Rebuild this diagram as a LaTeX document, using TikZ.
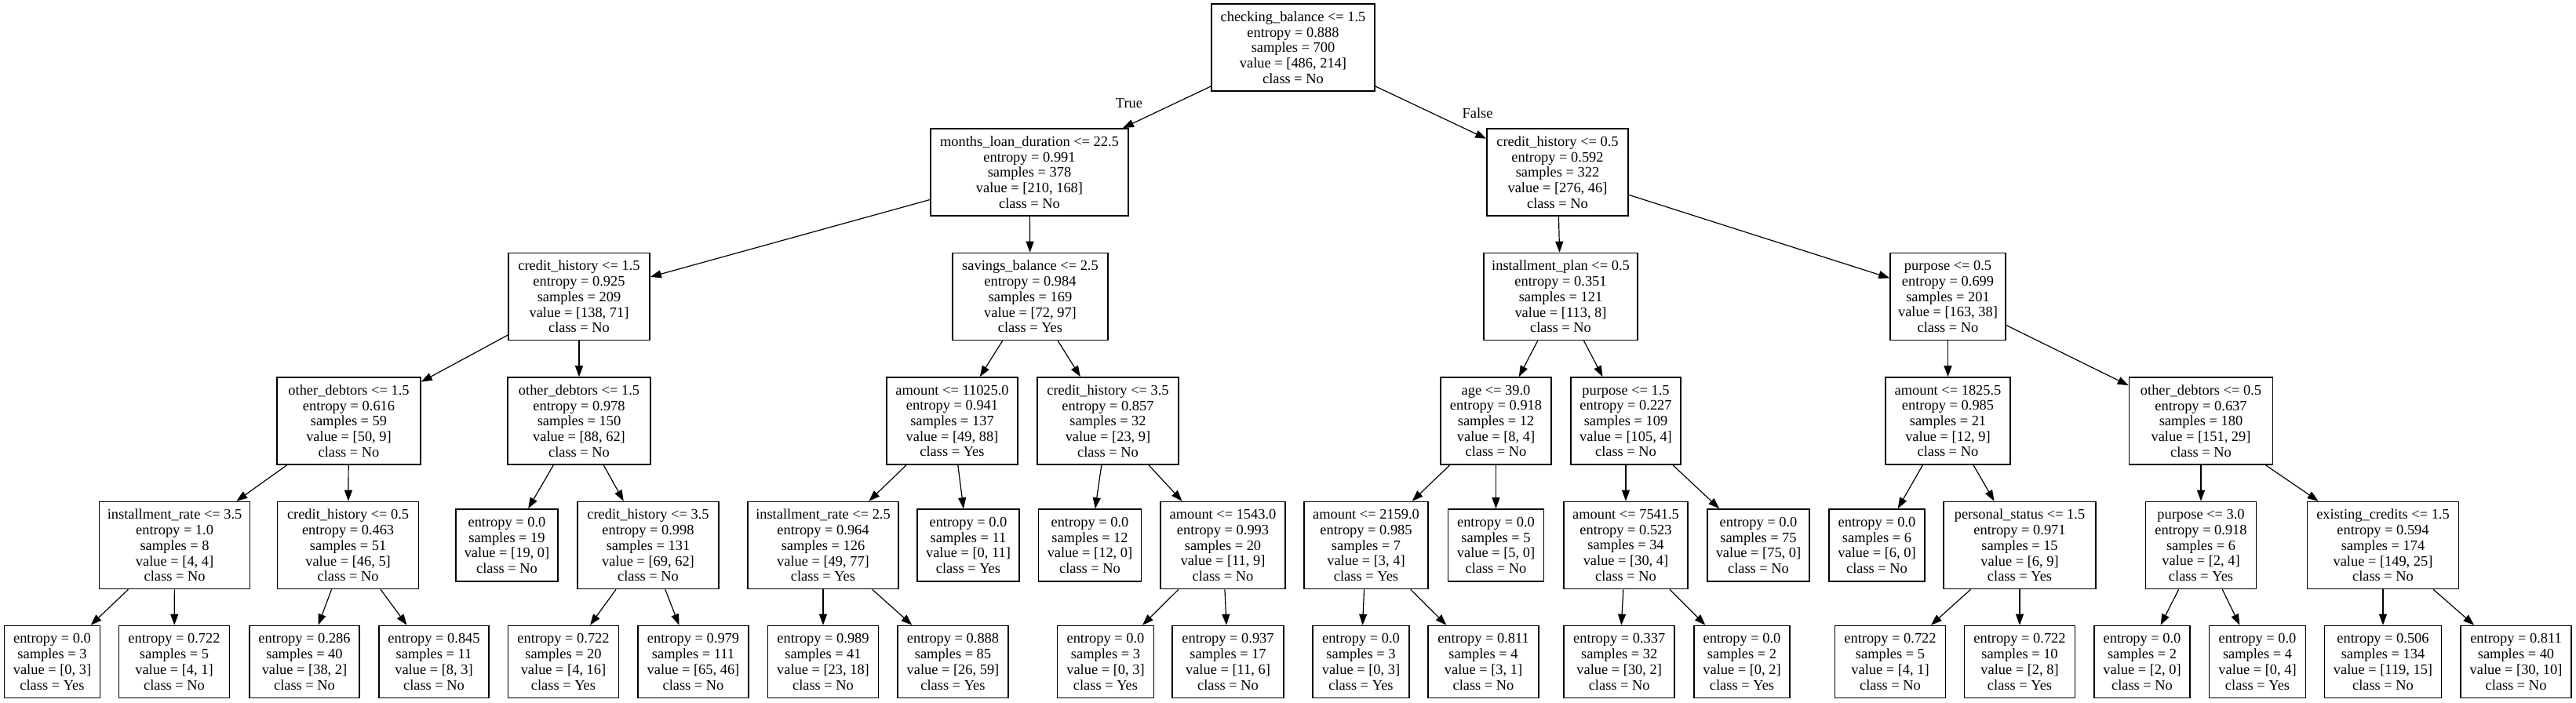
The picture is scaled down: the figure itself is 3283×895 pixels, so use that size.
\documentclass[tikz,border=0pt]{standalone}
\usepackage{fontspec}
\setmainfont{Liberation Serif}
\usetikzlibrary{arrows.meta}
\tikzset{
  tbox/.style={draw, line width=0.8pt, rectangle, inner sep=0pt, align=center,
    font=\fontsize{9.2}{9.85}\selectfont},
  inn/.style={tbox, minimum height=55.5pt},
  leaf/.style={tbox, minimum height=46pt},
  bw/.style={minimum width=#1*0.5pt},
  arr/.style={-{Triangle[length=7pt,width=5pt]}, line width=0.6pt},
  lbl/.style={inner sep=0pt, font=\fontsize{9.2}{9.85}\selectfont}
}
\begin{document}
\begin{tikzpicture}[x=0.5pt,y=-0.5pt]
\fill[white] (0,0) rectangle (3283,895);
\useasboundingbox (0,0) rectangle (3283,895);
% level 0
\node[inn,bw=208] (r) at (1648,60.5) {checking\_balance <= 1.5\\entropy = 0.888\\samples = 700\\value = [486, 214]\\class = No};
% level 1
\node[inn,bw=252] (n1) at (1312,219.5) {months\_loan\_duration <= 22.5\\entropy = 0.991\\samples = 378\\value = [210, 168]\\class = No};
\node[inn,bw=180] (n2) at (1985,219.5) {credit\_history <= 0.5\\entropy = 0.592\\samples = 322\\value = [276, 46]\\class = No};
% level 2
\node[inn,bw=180] (n3) at (738,378) {credit\_history <= 1.5\\entropy = 0.925\\samples = 209\\value = [138, 71]\\class = No};
\node[inn,bw=198] (n4) at (1313,378) {savings\_balance <= 2.5\\entropy = 0.984\\samples = 169\\value = [72, 97]\\class = Yes};
\node[inn,bw=196] (n5) at (1989,378) {installment\_plan <= 0.5\\entropy = 0.351\\samples = 121\\value = [113, 8]\\class = No};
\node[inn,bw=147] (n6) at (2482.5,378) {purpose <= 0.5\\entropy = 0.699\\samples = 201\\value = [163, 38]\\class = No};
% level 3
\node[inn,bw=183] (n7) at (444.5,536.5) {other\_debtors <= 1.5\\entropy = 0.616\\samples = 59\\value = [50, 9]\\class = No};
\node[inn,bw=182] (n8) at (738,536.5) {other\_debtors <= 1.5\\entropy = 0.978\\samples = 150\\value = [88, 62]\\class = No};
\node[inn,bw=167] (n9) at (1213.5,536.5) {amount <= 11025.0\\entropy = 0.941\\samples = 137\\value = [49, 88]\\class = Yes};
\node[inn,bw=180] (n10) at (1412,536.5) {credit\_history <= 3.5\\entropy = 0.857\\samples = 32\\value = [23, 9]\\class = No};
\node[inn,bw=141] (n11) at (1906.5,536.5) {age <= 39.0\\entropy = 0.918\\samples = 12\\value = [8, 4]\\class = No};
\node[inn,bw=140] (n12) at (2072,536.5) {purpose <= 1.5\\entropy = 0.227\\samples = 109\\value = [105, 4]\\class = No};
\node[inn,bw=159] (n13) at (2482.5,536.5) {amount <= 1825.5\\entropy = 0.985\\samples = 21\\value = [12, 9]\\class = No};
\node[inn,bw=183] (n14) at (2805,536.5) {other\_debtors <= 0.5\\entropy = 0.637\\samples = 180\\value = [151, 29]\\class = No};
% level 4
\node[inn,bw=192] (n15) at (222.6,695) {installment\_rate <= 3.5\\entropy = 1.0\\samples = 8\\value = [4, 4]\\class = No};
\node[inn,bw=180] (n16) at (443.6,695) {credit\_history <= 0.5\\entropy = 0.463\\samples = 51\\value = [46, 5]\\class = No};
\node[leaf,bw=130] (n17) at (646,695) {entropy = 0.0\\samples = 19\\value = [19, 0]\\class = No};
\node[inn,bw=180] (n18) at (826,695) {credit\_history <= 3.5\\entropy = 0.998\\samples = 131\\value = [69, 62]\\class = No};
\node[inn,bw=192] (n19) at (1049,695) {installment\_rate <= 2.5\\entropy = 0.964\\samples = 126\\value = [49, 77]\\class = Yes};
\node[leaf,bw=130] (n20) at (1234,695) {entropy = 0.0\\samples = 11\\value = [0, 11]\\class = Yes};
\node[leaf,bw=131] (n21) at (1389,695) {entropy = 0.0\\samples = 12\\value = [12, 0]\\class = No};
\node[inn,bw=159] (n22) at (1558.5,695) {amount <= 1543.0\\entropy = 0.993\\samples = 20\\value = [11, 9]\\class = No};
\node[inn,bw=158] (n23) at (1741,695) {amount <= 2159.0\\entropy = 0.985\\samples = 7\\value = [3, 4]\\class = Yes};
\node[leaf,bw=122] (n24) at (1906.5,695) {entropy = 0.0\\samples = 5\\value = [5, 0]\\class = No};
\node[inn,bw=158] (n25) at (2072,695) {amount <= 7541.5\\entropy = 0.523\\samples = 34\\value = [30, 4]\\class = No};
\node[leaf,bw=130] (n26) at (2241,695) {entropy = 0.0\\samples = 75\\value = [75, 0]\\class = No};
\node[leaf,bw=122] (n27) at (2392,695) {entropy = 0.0\\samples = 6\\value = [6, 0]\\class = No};
\node[inn,bw=194] (n28) at (2574,695) {personal\_status <= 1.5\\entropy = 0.971\\samples = 15\\value = [6, 9]\\class = Yes};
\node[inn,bw=141] (n29) at (2805,695) {purpose <= 3.0\\entropy = 0.918\\samples = 6\\value = [2, 4]\\class = Yes};
\node[inn,bw=193] (n30) at (3037,695) {existing\_credits <= 1.5\\entropy = 0.594\\samples = 174\\value = [149, 25]\\class = No};
% level 5
\node[leaf,bw=122] (a1) at (66.5,843.5) {entropy = 0.0\\samples = 3\\value = [0, 3]\\class = Yes};
\node[leaf,bw=141] (a2) at (222,843.5) {entropy = 0.722\\samples = 5\\value = [4, 1]\\class = No};
\node[leaf,bw=140] (a3) at (388,843.5) {entropy = 0.286\\samples = 40\\value = [38, 2]\\class = No};
\node[leaf,bw=140] (a4) at (553,843.5) {entropy = 0.845\\samples = 11\\value = [8, 3]\\class = No};
\node[leaf,bw=141] (a5) at (718,843.5) {entropy = 0.722\\samples = 20\\value = [4, 16]\\class = Yes};
\node[leaf,bw=141] (a6) at (883.5,843.5) {entropy = 0.979\\samples = 111\\value = [65, 46]\\class = No};
\node[leaf,bw=141] (a7) at (1049,843.5) {entropy = 0.989\\samples = 41\\value = [23, 18]\\class = No};
\node[leaf,bw=141] (a8) at (1214.5,843.5) {entropy = 0.888\\samples = 85\\value = [26, 59]\\class = Yes};
\node[leaf,bw=123] (a9) at (1409,843.5) {entropy = 0.0\\samples = 3\\value = [0, 3]\\class = Yes};
\node[leaf,bw=142] (a10) at (1565,843.5) {entropy = 0.937\\samples = 17\\value = [11, 6]\\class = No};
\node[leaf,bw=123] (a11) at (1734.5,843.5) {entropy = 0.0\\samples = 3\\value = [0, 3]\\class = Yes};
\node[leaf,bw=141] (a12) at (1890.5,843.5) {entropy = 0.811\\samples = 4\\value = [3, 1]\\class = No};
\node[leaf,bw=141] (a13) at (2063.7,843.5) {entropy = 0.337\\samples = 32\\value = [30, 2]\\class = No};
\node[leaf,bw=122] (a14) at (2220,843.5) {entropy = 0.0\\samples = 2\\value = [0, 2]\\class = Yes};
\node[leaf,bw=141] (a15) at (2409,843.5) {entropy = 0.722\\samples = 5\\value = [4, 1]\\class = No};
\node[leaf,bw=141] (a16) at (2574,843.5) {entropy = 0.722\\samples = 10\\value = [2, 8]\\class = Yes};
\node[leaf,bw=122] (a17) at (2730,843.5) {entropy = 0.0\\samples = 2\\value = [2, 0]\\class = No};
\node[leaf,bw=123] (a18) at (2877,843.5) {entropy = 0.0\\samples = 4\\value = [0, 4]\\class = Yes};
\node[leaf,bw=149] (a19) at (3037,843.5) {entropy = 0.506\\samples = 134\\value = [119, 15]\\class = No};
\node[leaf,bw=141] (a20) at (3206.5,843.5) {entropy = 0.811\\samples = 40\\value = [30, 10]\\class = No};
% edge labels
\node[lbl] (lt) at (1439,132) {True};
\node[lbl] (lf) at (1883,144) {False};
% edges
\foreach \p/\c in {r/n1,r/n2,n1/n3,n1/n4,n2/n5,n2/n6,n3/n7,n3/n8,n4/n9,n4/n10,n5/n11,n5/n12,n6/n13,n6/n14,
  n7/n15,n7/n16,n8/n17,n8/n18,n9/n19,n9/n20,n10/n21,n10/n22,n11/n23,n11/n24,n12/n25,n12/n26,n13/n27,n13/n28,n14/n29,n14/n30,
  n15/a1,n15/a2,n16/a3,n16/a4,n18/a5,n18/a6,n19/a7,n19/a8,n22/a9,n22/a10,n23/a11,n23/a12,n25/a13,n25/a14,n28/a15,n28/a16,n29/a17,n29/a18,n30/a19,n30/a20}
  \draw[arr] (\p) -- (\c);
\end{tikzpicture}
\end{document}
